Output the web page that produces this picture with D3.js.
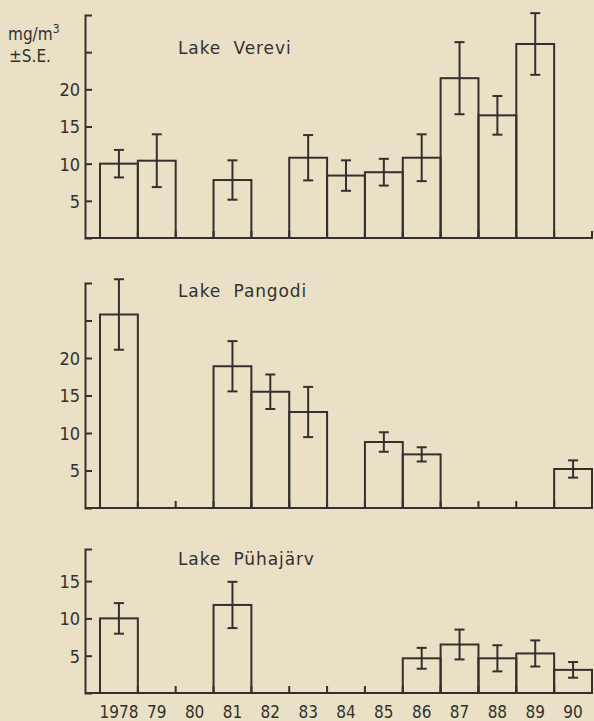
<!DOCTYPE html>
<html>
<head>
<meta charset="utf-8">
<title>Chlorophyll a, three lakes</title>
<script src="https://d3js.org/d3.v7.min.js"></script>
<style>
body { margin: 0; background: #e9e0c6; }
svg { display: block; }
.ink { stroke: #33312d; fill: none; stroke-width: 2px; }
text { fill: #33312d; font-family: "DejaVu Sans Condensed", "DejaVu Sans", sans-serif; }
.axis path, .axis line { stroke: #33312d; stroke-width: 2px; }
.axis text { font-size: 18px; fill: #33312d; }
.lake { font-family: "DejaVu Sans", sans-serif; font-size: 17px; letter-spacing: 0.9px; word-spacing: 6px; }
</style>
</head>
<body>
<svg id="chart" width="594" height="721"></svg>
<script>
// years on the x axis
var years = ["1978", "79", "80", "81", "82", "83", "84", "85", "86", "87", "88", "89", "90"];

// mean values (mg/m3), null = no data
var verevi   = [10.0, 10.4, null, 7.8, null, 10.8, 8.4, 8.85, 10.8, 21.5, 16.5, 26.1, null];
var vereviSE = [1.85, 3.55, null, 2.65, null, 3.05, 2.05, 1.8, 3.15, 4.85, 2.6, 4.15, null];

var pangodi   = [25.8, null, null, 18.9, 15.5, 12.8, null, 8.8, 7.15, null, null, null, 5.2];
var pangodiSE = [4.7, null, null, 3.35, 2.3, 3.35, null, 1.3, 0.95, null, null, null, 1.15];

var puha   = [10.0, null, null, 11.8, null, null, null, null, 4.65, 6.5, 4.65, 5.3, 3.1];
var puhaSE = [2.05, null, null, 3.1, null, null, null, null, 1.4, 2.0, 1.75, 1.75, 1.05];

var svg = d3.select("#chart");

var axisX = 85;
var x = d3.scaleBand()
    .domain(years)
    .range([100, 592])
    .padding(0);

var panels = [
    {name: "Lake  Verevi",   vals: verevi,  se: vereviSE,  y0: 238, y1: 15,  max: 30,   ticks: [5, 10, 15, 20, 25], ty: 54},
    {name: "Lake  Pangodi",  vals: pangodi, se: pangodiSE, y0: 508, y1: 283, max: 30,   ticks: [5, 10, 15, 20, 25], ty: 297},
    {name: "Lake  Pühajärv", vals: puha,    se: puhaSE,    y0: 693, y1: 549, max: 19.3, ticks: [5, 10, 15],         ty: 565}
];

panels.forEach(function(p) {
    var y = d3.scaleLinear().domain([0, p.max]).range([p.y0, p.y1]);
    var g = svg.append("g");

    var rows = years.map(function(yr, i) {
        return {year: yr, v: p.vals[i], se: p.se[i]};
    }).filter(function(d) { return d.v != null; });

    // bars
    g.selectAll(".bar")
        .data(rows)
      .enter().append("rect")
        .attr("class", "bar ink")
        .attr("x", d => x(d.year))
        .attr("width", x.bandwidth())
        .attr("y", d => y(d.v))
        .attr("height", d => y(0) - y(d.v));

    // error bars
    var err = g.selectAll(".err")
        .data(rows)
      .enter().append("g")
        .attr("class", "err")
        .attr("transform", d => "translate(" + (x(d.year) + x.bandwidth() / 2) + ",0)");
    err.append("line").attr("class", "ink")
        .attr("y1", d => y(d.v - d.se)).attr("y2", d => y(d.v + d.se));
    err.append("line").attr("class", "ink")
        .attr("x1", -5).attr("x2", 5)
        .attr("y1", d => y(d.v + d.se)).attr("y2", d => y(d.v + d.se));
    err.append("line").attr("class", "ink")
        .attr("x1", -5).attr("x2", 5)
        .attr("y1", d => y(d.v - d.se)).attr("y2", d => y(d.v - d.se));

    // baseline with year boundary ticks
    g.append("line").attr("class", "ink")
        .attr("x1", axisX).attr("x2", x.range()[1] + 1)
        .attr("y1", y(0)).attr("y2", y(0));
    g.selectAll(".ytick")
        .data(years.slice(1).concat(["end"]))
      .enter().append("line")
        .attr("class", "ink")
        .attr("x1", d => d == "end" ? x.range()[1] : x(d))
        .attr("x2", d => d == "end" ? x.range()[1] : x(d))
        .attr("y1", y(0)).attr("y2", y(0) - 7);

    // y axis, ticks pointing inward
    g.append("g")
        .attr("class", "axis")
        .attr("transform", "translate(" + axisX + ",0)")
        .call(d3.axisLeft(y)
            .tickValues(p.ticks)
            .tickFormat(d => d == 25 ? "" : d)
            .tickSize(-7)
            .tickSizeOuter(-7)
            .tickPadding(5))
        .call(a => a.selectAll("text").attr("font-family", null).attr("font-size", null).attr("dy", "0.36em"));

    g.append("text")
        .attr("class", "lake")
        .attr("x", 178)
        .attr("y", p.ty)
        .text(p.name);
});

// unit label
var unit = svg.append("text")
    .attr("x", 8).attr("y", 40)
    .style("font-size", "17px");
unit.append("tspan").text("mg/m");
unit.append("tspan").attr("dy", -7).style("font-size", "12px").text("3");
svg.append("text")
    .attr("x", 9).attr("y", 62)
    .style("font-size", "17px")
    .text("±S.E.");

// year labels below the last panel
svg.selectAll(".yr")
    .data(years)
  .enter().append("text")
    .attr("class", "yr")
    .attr("x", d => x(d) + x.bandwidth() / 2)
    .attr("y", 718)
    .attr("text-anchor", "middle")
    .style("font-size", "17px")
    .text(d => d);
</script>
</body>
</html>
